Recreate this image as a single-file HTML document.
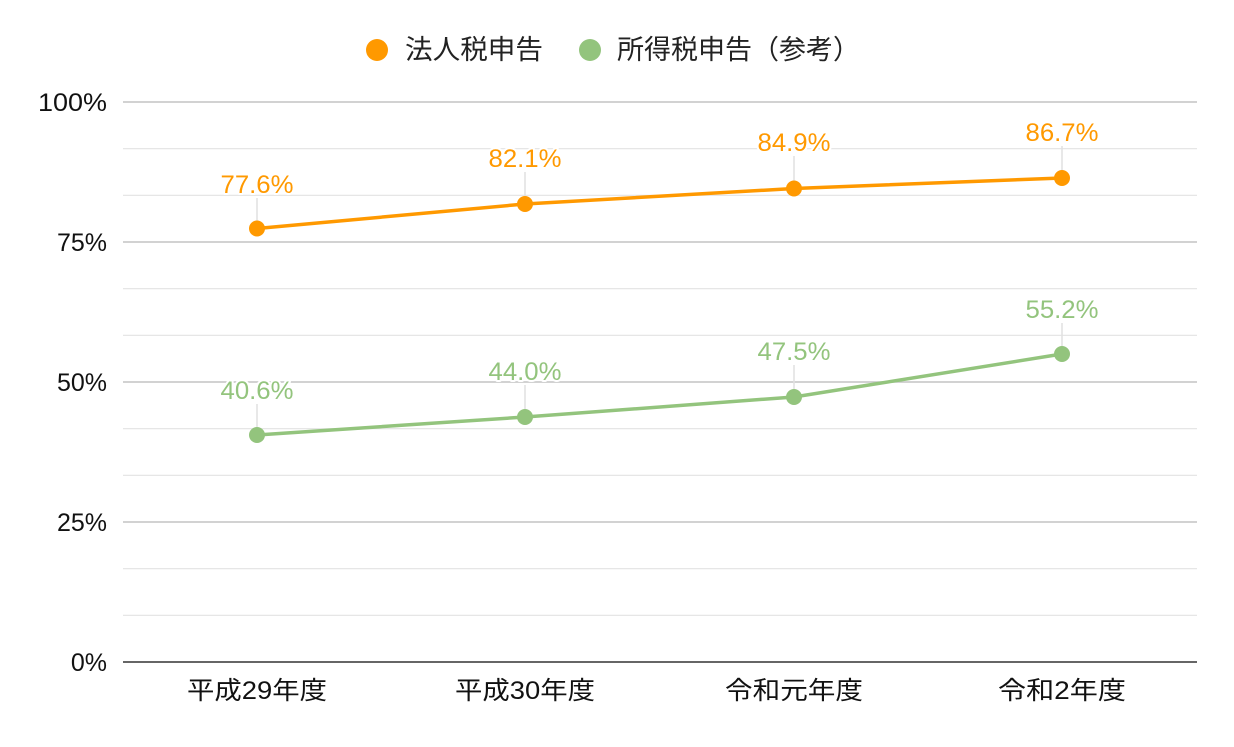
<!DOCTYPE html>
<html><head><meta charset="utf-8"><style>
html,body{margin:0;padding:0;background:#fff;}
svg text{font-family:"Liberation Sans","Noto Sans CJK JP",sans-serif;}
</style></head><body>
<svg width="1234" height="742" viewBox="0 0 1234 742" xmlns="http://www.w3.org/2000/svg">
<g stroke="#e3e3e3" stroke-width="1.2">
<line x1="123" x2="1197" y1="148.7" y2="148.7"/>
<line x1="123" x2="1197" y1="195.3" y2="195.3"/>
<line x1="123" x2="1197" y1="288.7" y2="288.7"/>
<line x1="123" x2="1197" y1="335.3" y2="335.3"/>
<line x1="123" x2="1197" y1="428.7" y2="428.7"/>
<line x1="123" x2="1197" y1="475.3" y2="475.3"/>
<line x1="123" x2="1197" y1="568.7" y2="568.7"/>
<line x1="123" x2="1197" y1="615.3" y2="615.3"/>
</g>
<g stroke="#c4c4c4" stroke-width="1.5">
<line x1="123" x2="1197" y1="102" y2="102"/>
<line x1="123" x2="1197" y1="242" y2="242"/>
<line x1="123" x2="1197" y1="382" y2="382"/>
<line x1="123" x2="1197" y1="522" y2="522"/>
</g>
<line x1="123" x2="1197" y1="662" y2="662" stroke="#333" stroke-width="1.5"/>
<g font-size="25" fill="#111" text-anchor="end">
<text x="107" y="111" textLength="69" lengthAdjust="spacingAndGlyphs">100%</text>
<text x="107" y="251">75%</text>
<text x="107" y="391">50%</text>
<text x="107" y="531">25%</text>
<text x="107" y="671">0%</text>
</g>
<g font-size="25" fill="#111" text-anchor="middle">
<text x="257" y="699" textLength="140" lengthAdjust="spacingAndGlyphs">平成29年度</text>
<text x="525" y="699" textLength="140" lengthAdjust="spacingAndGlyphs">平成30年度</text>
<text x="794" y="699" textLength="138" lengthAdjust="spacingAndGlyphs">令和元年度</text>
<text x="1062" y="699" textLength="128" lengthAdjust="spacingAndGlyphs">令和2年度</text>
</g>
<g stroke="#e0e0e0" stroke-width="1.5">
<line x1="257" x2="257" y1="198" y2="228"/>
<line x1="525" x2="525" y1="172" y2="204"/>
<line x1="794" x2="794" y1="156" y2="188"/>
<line x1="1062" x2="1062" y1="146" y2="178"/>
<line x1="257" x2="257" y1="404" y2="435"/>
<line x1="525" x2="525" y1="385" y2="417"/>
<line x1="794" x2="794" y1="365" y2="397"/>
<line x1="1062" x2="1062" y1="323" y2="354"/>
</g>
<polyline points="257,228.5 525,204 794,188.5 1062,178" fill="none" stroke="#ff9900" stroke-width="3.5"/>
<polyline points="257,435 525,417 794,397 1062,354" fill="none" stroke="#93c47d" stroke-width="3.5"/>
<g fill="#ff9900">
<circle cx="257" cy="228.5" r="8"/><circle cx="525" cy="204" r="8"/><circle cx="794" cy="188.5" r="8"/><circle cx="1062" cy="178" r="8"/>
</g>
<g fill="#93c47d">
<circle cx="257" cy="435" r="8"/><circle cx="525" cy="417" r="8"/><circle cx="794" cy="397" r="8"/><circle cx="1062" cy="354" r="8"/>
</g>
<g font-size="25" text-anchor="middle" stroke="#fff" stroke-width="4" paint-order="stroke" stroke-linejoin="round">
<text x="257" y="193" fill="#ff9900" textLength="73" lengthAdjust="spacingAndGlyphs">77.6%</text>
<text x="525" y="167" fill="#ff9900" textLength="73" lengthAdjust="spacingAndGlyphs">82.1%</text>
<text x="794" y="151" fill="#ff9900" textLength="73" lengthAdjust="spacingAndGlyphs">84.9%</text>
<text x="1062" y="141" fill="#ff9900" textLength="73" lengthAdjust="spacingAndGlyphs">86.7%</text>
<text x="257" y="399" fill="#93c47d" textLength="73" lengthAdjust="spacingAndGlyphs">40.6%</text>
<text x="525" y="380" fill="#93c47d" textLength="73" lengthAdjust="spacingAndGlyphs">44.0%</text>
<text x="794" y="360" fill="#93c47d" textLength="73" lengthAdjust="spacingAndGlyphs">47.5%</text>
<text x="1062" y="318" fill="#93c47d" textLength="73" lengthAdjust="spacingAndGlyphs">55.2%</text>
</g>
<circle cx="377" cy="50" r="11" fill="#ff9900"/>
<text x="405" y="59" font-size="27" fill="#222" textLength="138" lengthAdjust="spacingAndGlyphs">法人税申告</text>
<circle cx="590" cy="50" r="11" fill="#93c47d"/>
<text x="617" y="59" font-size="27" fill="#222" textLength="243" lengthAdjust="spacingAndGlyphs">所得税申告（参考）</text>
</svg>
</body></html>
